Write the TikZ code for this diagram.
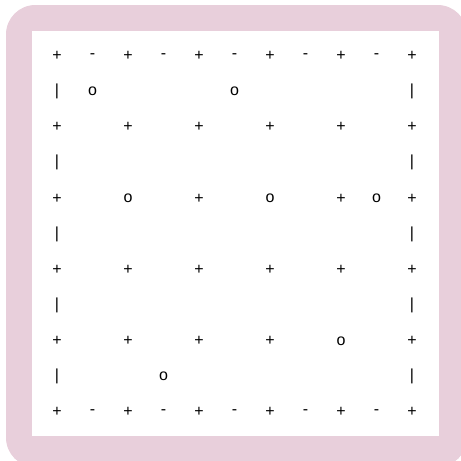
\documentclass[tikz,border=0pt]{standalone}
\usepackage{fontspec}
\setmainfont{Liberation Sans}
\usepackage{tikz}
\usepackage{xcolor}

\definecolor{frame}{RGB}{232,207,219}

\begin{document}
\begin{tikzpicture}[
        x=0.75pt, y=-0.75pt,
        cell/.style={
            inner sep=0pt,
            font=\fontsize{12}{14}\selectfont
        }
    ]

        \useasboundingbox (0,0) rectangle (461,461);
        \begin{scope}
            \clip (0,0) rectangle (461,461);
            \fill[frame, rounded corners=22] (6,5) rectangle (467,467);
        \end{scope}
        \fill[white] (32,31) rectangle (439,436);

        % corners of the cells
        \foreach \r/\cols in {0/{0,2,4,6,8,10}, 2/{0,2,4,6,8,10}, 4/{0,4,8,10},
                              6/{0,2,4,6,8,10}, 8/{0,2,4,6,10}, 10/{0,2,4,6,8,10}}
            \foreach \c in \cols
                \node[cell] (p-\c-\r) at ({57+35.5*\c},{56+35.6*\r}) {+};

        % top and bottom walls
        \foreach \r in {0,10}
            \foreach \c in {1,3,...,9}
                \node[cell] (h-\c-\r) at ({57+35.5*\c},{56+35.6*\r}) {-};

        % left and right walls
        \foreach \c in {0,10}
            \foreach \r in {1,3,...,9}
                \node[cell] (v-\c-\r) at ({57+35.5*\c},{56+35.6*\r}) {|};

        % marks
        \foreach \c/\r in {1/1, 5/1, 2/4, 6/4, 9/4, 8/8, 3/9}
            \node[cell] (o-\c-\r) at ({57+35.5*\c},{56+35.6*\r}) {o};

    \end{tikzpicture}
\end{document}
